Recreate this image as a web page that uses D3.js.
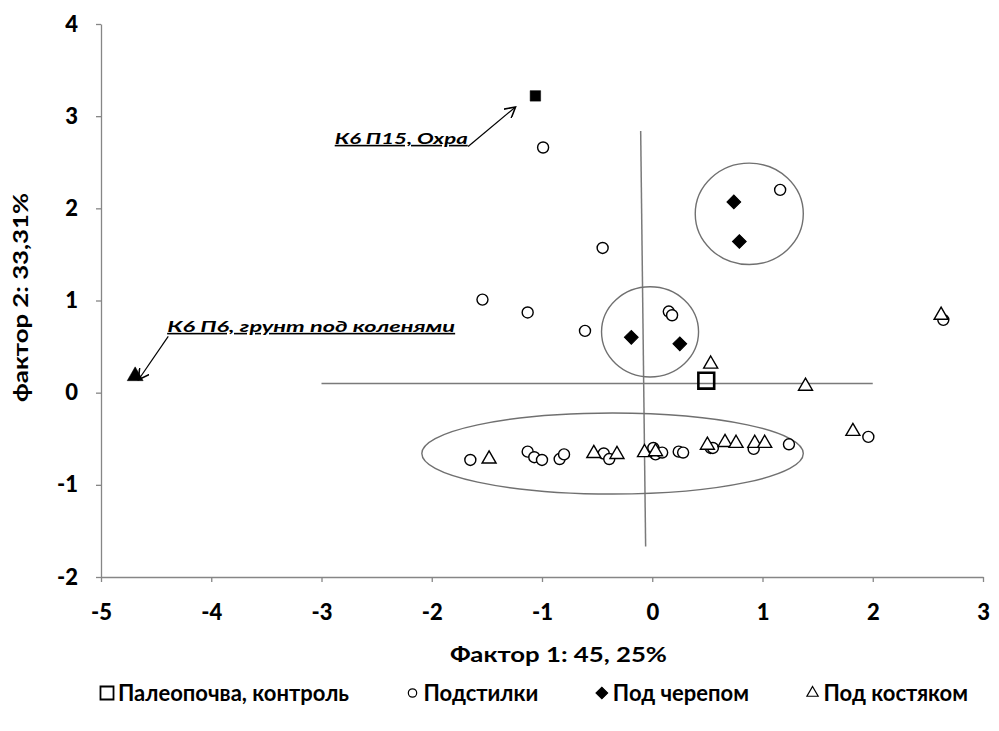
<!DOCTYPE html>
<html>
<head>
<meta charset="utf-8">
<script src="https://cdn.jsdelivr.net/npm/d3@7"></script>
<style>
  body { margin: 0; background: #fff; }
  svg { font-family: Lato, "Open Sans", sans-serif; font-weight: bold; }
</style>
</head>
<body>
<svg id="chart" width="999" height="731"></svg>
<script>
// tick values
var xTicks = [-5, -4, -3, -2, -1, 0, 1, 2, 3];
var yTicks = [-2, -1, 0, 1, 2, 3, 4];

// series: [factor1, factor2]
var control = [[0.49, 0.13]];
var litters = [
  [-0.99, 2.66], [1.16, 2.20], [-0.45, 1.57], [-1.54, 1.01], [-1.13, 0.87],
  [-0.61, 0.67], [0.15, 0.88], [0.18, 0.84], [2.64, 0.79], [1.96, -0.48],
  [-1.65, -0.73], [-1.13, -0.64], [-1.07, -0.70], [-1.00, -0.73], [-0.84, -0.72],
  [-0.80, -0.67], [-0.44, -0.66], [-0.39, -0.72], [0.01, -0.60], [0.03, -0.67],
  [0.09, -0.65], [0.24, -0.64], [0.28, -0.65], [0.53, -0.60], [0.55, -0.60],
  [0.92, -0.61], [1.24, -0.56]
];
var skull = [[0.74, 2.07], [0.79, 1.64], [-0.19, 0.60], [0.25, 0.53]];
var skeleton = [
  [2.62, 0.84], [0.53, 0.31], [1.39, 0.07], [1.82, -0.42],
  [-1.48, -0.72], [-0.53, -0.66], [-0.32, -0.67], [-0.07, -0.65], [0.03, -0.64],
  [0.50, -0.57], [0.66, -0.54], [0.76, -0.55], [0.93, -0.55], [1.02, -0.55]
];
var ochre = [[-1.06, 3.22]];
var knees = [[-4.69, 0.18]];

// guide lines and groupings (data units)
var hLine = [[-3, 0.10], [2, 0.10]];
var vLine = [[-0.105, 2.84], [-0.06, -1.67]];
var groups = [
  {cx: -0.36, cy: -0.66, rx: 1.73, ry: 0.44},
  {cx: -0.02, cy: 0.66, rx: 0.44, ry: 0.49},
  {cx: 0.88, cy: 1.94, rx: 0.49, ry: 0.55}
];

// annotations
var notes = [
  {text: "К6 П15, Охра", x: -2.88, y: 2.70, width: 133, from: [-1.67, 2.67], to: [-1.24, 3.10]},
  {text: "К6 П6, грунт под коленями", x: -4.40, y: 0.66, width: 288, from: [-4.39, 0.61], to: [-4.66, 0.14]}
];

var legendItems = ["Палеопочва, контроль", "Подстилки", "Под черепом", "Под костяком"];

var svg = d3.select("#chart");
var x = d3.scaleLinear().domain([-5, 3]).range([101, 983]);
var y = d3.scaleLinear().domain([-2, 4]).range([577, 24]);
var axisColor = "#868686";
var fmt = function(d){ return String(d); };

//Axes
var xAxis = svg.append("g").attr("transform", "translate(0," + y(-2) + ")")
  .call(d3.axisBottom(x).tickValues(xTicks).tickFormat(fmt).tickSize(5).tickSizeOuter(0).tickPadding(22));
var yAxis = svg.append("g").attr("transform", "translate(" + x(-5) + ",0)")
  .call(d3.axisLeft(y).tickValues(yTicks).tickFormat(fmt).tickSize(5).tickSizeOuter(0).tickPadding(18));
[xAxis, yAxis].forEach(function(a){
  a.select(".domain").attr("stroke", axisColor).attr("stroke-width", 1.3);
  a.selectAll(".tick line").attr("stroke", axisColor).attr("stroke-width", 1.3);
  a.selectAll(".tick text").attr("fill", "#000").style("font-size", "22px")
    .style("font-family", "Lato, sans-serif").style("font-weight", "900");
});

//Axis titles
svg.append("text").attr("x", 450).attr("y", 662)
  .attr("textLength", 217).attr("lengthAdjust", "spacingAndGlyphs")
  .style("font-size", "20px").text("Фактор 1: 45, 25%");
svg.append("text").attr("transform", "translate(28,402) rotate(-90)")
  .attr("textLength", 209).attr("lengthAdjust", "spacingAndGlyphs")
  .style("font-size", "20px").text("фактор 2: 33,31%");

//Guide lines
var line = d3.line().x(function(d){ return x(d[0]); }).y(function(d){ return y(d[1]); });
[hLine, vLine].forEach(function(l){
  svg.append("path").attr("d", line(l)).attr("stroke", "#7a7a7a").attr("stroke-width", 1.5).attr("fill", "none");
});

//Groupings
svg.selectAll(".grp").data(groups).enter().append("ellipse")
  .attr("cx", function(d){ return x(d.cx); })
  .attr("cy", function(d){ return y(d.cy); })
  .attr("rx", function(d){ return x(d.cx + d.rx) - x(d.cx); })
  .attr("ry", function(d){ return y(d.cy) - y(d.cy + d.ry); })
  .attr("fill", "none").attr("stroke", "#707070").attr("stroke-width", 1.4);

//Markers
function drawPoints(data, type, size, fill, stroke, sw, rot){
  svg.append("g").selectAll("path").data(data).enter().append("path")
    .attr("transform", function(d){ return "translate(" + x(d[0]) + "," + y(d[1]) + ")" + (rot ? " rotate(45)" : ""); })
    .attr("d", d3.symbol().type(type).size(size))
    .attr("fill", fill).attr("stroke", stroke).attr("stroke-width", sw);
}
drawPoints(litters, d3.symbolCircle, 95, "#fff", "#000", 1.4);
drawPoints(skeleton, d3.symbolTriangle, 85, "#fff", "#000", 1.4);
drawPoints(skull, d3.symbolSquare, 95, "#000", "#000", 1, true);
drawPoints(control, d3.symbolSquare, 250, "none", "#000", 2.6);
drawPoints(ochre, d3.symbolSquare, 110, "#000", "#000", 0.5);
drawPoints(knees, d3.symbolTriangle, 110, "#000", "#000", 0.5);

//Annotations with arrows
svg.append("defs").append("marker").attr("id", "arr")
  .attr("viewBox", "0 0 10 10").attr("refX", 9).attr("refY", 5)
  .attr("markerWidth", 12).attr("markerHeight", 12).attr("orient", "auto")
  .attr("markerUnits", "userSpaceOnUse")
  .append("path").attr("d", "M0,0 L9,5 L0,10").attr("fill", "none").attr("stroke", "#000").attr("stroke-width", 1.3);
notes.forEach(function(n){
  svg.append("text").attr("x", x(n.x)).attr("y", y(n.y))
    .attr("textLength", n.width).attr("lengthAdjust", "spacingAndGlyphs")
    .style("font-size", "16px").style("font-style", "italic")
    .style("text-decoration", "underline").text(n.text);
  svg.append("line").attr("x1", x(n.from[0])).attr("y1", y(n.from[1]))
    .attr("x2", x(n.to[0])).attr("y2", y(n.to[1]))
    .attr("stroke", "#000").attr("stroke-width", 1.2).attr("marker-end", "url(#arr)");
});

//Legend: same font for every item, spread evenly between x=100 and x=968
var legSym = [
  {type: d3.symbolSquare, size: 170, fill: "#fff", sw: 1.8, rot: false},
  {type: d3.symbolCircle, size: 55, fill: "#fff", sw: 1.2, rot: false},
  {type: d3.symbolSquare, size: 70, fill: "#000", sw: 1, rot: true},
  {type: d3.symbolTriangle, size: 55, fill: "#fff", sw: 1.2, rot: false}
];
var leg = svg.append("g");
var legTexts = legendItems.map(function(t){
  return leg.append("text").attr("y", 701).style("font-size", "22px").text(t);
});
var symW = 18, widths = legTexts.map(function(t){ return t.node().getComputedTextLength(); });
var gap = (868 - d3.sum(widths) - symW * 4) / 3;
var lx = 100;
legendItems.forEach(function(t, i){
  leg.append("path").attr("transform", "translate(" + (lx + 7) + ",693)" + (legSym[i].rot ? " rotate(45)" : ""))
    .attr("d", d3.symbol().type(legSym[i].type).size(legSym[i].size))
    .attr("fill", legSym[i].fill).attr("stroke", "#000").attr("stroke-width", legSym[i].sw);
  legTexts[i].attr("x", lx + symW);
  lx += symW + widths[i] + gap;
});
</script>
</body>
</html>
